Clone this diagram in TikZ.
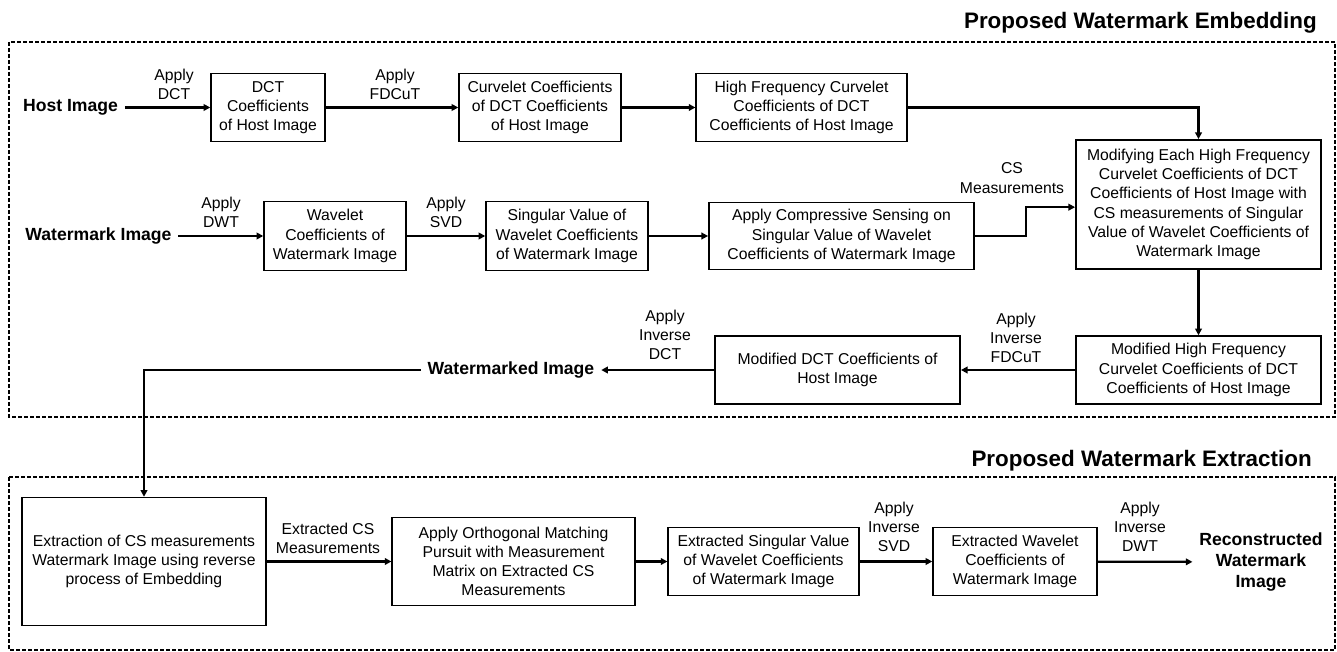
\documentclass[tikz,border=0pt]{standalone}
\usepackage{fontspec}
\setmainfont{Liberation Sans}
\usepackage{tikz}
\usetikzlibrary{arrows.meta, positioning}
\newcommand{\boxfont}{\fontsize{11.8}{14.4}\selectfont}
\newcommand{\termfont}{\fontsize{13.2}{16}\selectfont\bfseries}
\newcommand{\headfont}{\fontsize{16.8}{20}\selectfont\bfseries}
\tikzset{
	stagebox/.style={draw, line width=1.1pt, inner sep=0pt, align=center, font=\boxfont},
	term/.style={inner sep=5pt, align=center, font=\termfont},
	lbl/.style={inner sep=0pt, align=center, font=\boxfont},
	flow/.style={line width=1.7pt, -{Triangle[length=5pt,width=5pt]}},
	frame/.style={dash pattern=on 3pt off 1.5pt, line width=0.9pt}
}
\begin{document}
\begin{tikzpicture}[x=0.75pt,y=-0.75pt]
		\useasboundingbox (0,0) rectangle (1337,652);
		\draw[frame] (9,42) rectangle (1335,417);
		\draw[frame] (9,477) rectangle (1335,650);
		\node[anchor=east, inner sep=0pt, font=\headfont] (t1) at (1317,23) {Proposed Watermark Embedding};
		\node[anchor=east, inner sep=0pt, font=\headfont] (t2) at (1312,461) {Proposed Watermark Extraction};
		
		% embedding
		\draw (70.5,107.5) node[term] (host) {Host Image}
		(268,107.5) node[stagebox, minimum width=85.5pt, minimum height=51pt] (dct) {DCT\\Coefficients\\of Host Image}
		(540,107.5) node[stagebox, minimum width=121.5pt, minimum height=51pt] (curv) {Curvelet Coefficients\\of DCT Coefficients\\of Host Image}
		(801.5,107.5) node[stagebox, minimum width=158pt, minimum height=51pt] (hfc) {High Frequency Curvelet\\Coefficients of DCT\\Coefficients of Host Image}
		(98.5,236) node[term] (wm) {Watermark Image}
		(335,236) node[stagebox, minimum width=106.5pt, minimum height=52pt] (wav) {Wavelet\\Coefficients of\\Watermark Image}
		(567,236) node[stagebox, minimum width=121.5pt, minimum height=52pt] (sv) {Singular Value of\\Wavelet Coefficients\\of Watermark Image}
		(841.5,236) node[stagebox, minimum width=199pt, minimum height=50pt] (cs) {Apply Compressive Sensing on\\Singular Value of Wavelet\\Coefficients of Watermark Image}
		(1198.5,204.5) node[stagebox, minimum width=184pt, minimum height=97pt] (modify) {Modifying Each High Frequency\\Curvelet Coefficients of DCT\\Coefficients of Host Image with\\CS measurements of Singular\\Value of Wavelet Coefficients of\\Watermark Image}
		(1198.5,370) node[stagebox, minimum width=184pt, minimum height=51pt] (mhf) {Modified High Frequency\\Curvelet Coefficients of DCT\\Coefficients of Host Image}
		(837.5,370) node[stagebox, minimum width=184pt, minimum height=51pt] (mdct) {Modified DCT Coefficients of\\Host Image}
		(511,370) node[term] (wmd) {Watermarked Image};
		
		\draw (174,84.5) node[lbl] (l1) {Apply\\DCT}
		(395,84.5) node[lbl] (l2) {Apply\\FDCuT}
		(221,212.5) node[lbl] (l3) {Apply\\DWT}
		(446,212.5) node[lbl] (l4) {Apply\\SVD}
		(1012,178) node[lbl] (l5) {CS\\Measurements}
		(1016,338) node[lbl] (l6) {Apply\\Inverse\\FDCuT}
		(665,335) node[lbl] (l7) {Apply\\Inverse\\DCT};
		
		\draw[flow] (host) -- (dct);
		\draw[flow] (dct) -- (curv);
		\draw[flow] (curv) -- (hfc);
		\draw[flow] (hfc) -| (modify);
		\draw[flow] (wm) -- (wav);
		\draw[flow] (wav) -- (sv);
		\draw[flow] (sv) -- (cs);
		\draw[flow] (cs.east) -- ++(51,0) |- ([yshift=-2pt]modify.west);
		\draw[flow] (modify) -- (mhf);
		\draw[flow] (mhf) -- (mdct);
		\draw[flow] (mdct) -- (wmd);
		
		% extraction
		\draw (144,561.5) node[stagebox, minimum width=183pt, minimum height=96pt] (extr) {Extraction of CS measurements\\Watermark Image using reverse\\process of Embedding}
		(513.5,561.5) node[stagebox, minimum width=182pt, minimum height=66pt] (omp) {Apply Orthogonal Matching\\Pursuit with Measurement\\Matrix on Extracted CS\\Measurements}
		(763.5,561.5) node[stagebox, minimum width=143pt, minimum height=51pt] (esv) {Extracted Singular Value\\of Wavelet Coefficients\\of Watermark Image}
		(1015,561.5) node[stagebox, minimum width=123pt, minimum height=51pt] (ewav) {Extracted Wavelet\\Coefficients of\\Watermark Image}
		(1261,562) node[term] (rec) {Reconstructed\\Watermark\\Image};
		
		\draw (328,538.5) node[lbl] (l8) {Extracted CS\\Measurements}
		(894,527) node[lbl] (l9) {Apply\\Inverse\\SVD}
		(1140,527) node[lbl] (l10) {Apply\\Inverse\\DWT};
		
		\draw[flow] (wmd) -| (extr);
		\draw[flow] (extr) -- (omp);
		\draw[flow] (omp) -- (esv);
		\draw[flow] (esv) -- (ewav);
		\draw[flow] (ewav) -- (rec);
	\end{tikzpicture}
\end{document}
